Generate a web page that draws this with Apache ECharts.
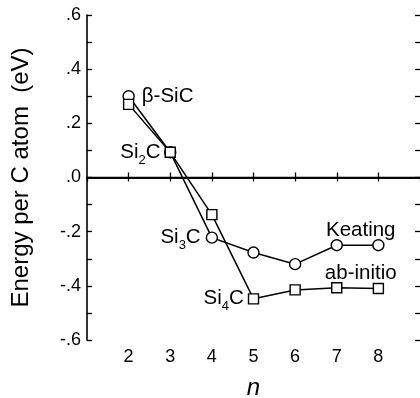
<!DOCTYPE html>
<html><head><meta charset="utf-8">
<script src="https://cdn.jsdelivr.net/npm/echarts@6/dist/echarts.min.js"></script>
<style>html,body{margin:0;padding:0;background:#fff}#c{width:420px;height:398px}</style>
</head><body><div id="c"></div>
<script>
var nValues = [2, 3, 4, 5, 6, 7, 8];
var keating = [0.30, 0.093, -0.222, -0.277, -0.32, -0.25, -0.25];
var abInitio = [0.27, 0.093, -0.137, -0.448, -0.415, -0.407, -0.41];
var yTickLabels = {'-0.6':'-.6','-0.4':'-.4','-0.2':'-.2','0':'.0','0.2':'.2','0.4':'.4','0.6':'.6'};

var FONT = '"Liberation Sans", Arial, Helvetica, sans-serif';
var rich = {s: {fontSize: 13, fontFamily: FONT, color: '#000', padding: [16, 0, 0, 0]}};
function lab(text, pos, extra) {
  var o = {show: true, formatter: text, position: pos, fontSize: 20.5, fontFamily: FONT, color: '#000', rich: rich};
  for (var k in extra) o[k] = extra[k];
  return o;
}
var keatLabels = {0: lab('β-SiC', 'right', {distance: 7}), 2: lab('Si{s|3}C', 'left', {distance: 5}),
  5: lab('Keating', 'inside', {offset: [24, -15]})};
var abLabels = {1: lab('Si{s|2}C', 'left', {distance: 4}), 3: lab('Si{s|4}C', 'left', {distance: 4}),
  5: lab('ab-initio', 'inside', {offset: [24, -14]})};
function build(vals, labels) {
  return vals.map(function (v, i) {
    var d = {value: [nValues[i], v]};
    if (labels[i]) d.label = labels[i];
    return d;
  });
}
var blk = {color: '#000', width: 1.6};
var tick = {color: '#000', width: 1.3};
var chart = echarts.init(document.getElementById('c'), null, {renderer: 'canvas'});
chart.setOption({
  animation: false,
  grid: {left: 87, right: 0, top: 15, bottom: 58, containLabel: false, outerBoundsMode: 'none'},
  xAxis: [{
    type: 'value', min: 1, max: 9, interval: 1, position: 'bottom',
    name: 'n', nameLocation: 'middle', nameGap: 36,
    nameTextStyle: {fontSize: 24, fontStyle: 'italic', fontFamily: FONT, color: '#000'},
    axisLine: {show: true, lineStyle: blk},
    axisTick: {show: true, inside: true, length: 5, lineStyle: tick},
    axisLabel: {show: true, fontSize: 18, fontFamily: FONT, color: '#000', margin: 8,
      showMinLabel: false, showMaxLabel: false},
    splitLine: {show: false}
  }, {
    type: 'value', min: 1, max: 9, interval: 1, position: 'top',
    axisLine: {show: true, lineStyle: blk},
    axisTick: {show: true, inside: true, length: 4, lineStyle: tick},
    axisLabel: {show: false}, splitLine: {show: false}
  }],
  yAxis: [{
    type: 'value', min: -0.6, max: 0.6, interval: 0.2, position: 'left',
    name: 'Energy per C atom  (eV)', nameLocation: 'middle', nameGap: 54,
    nameTextStyle: {fontSize: 24, fontFamily: FONT, color: '#000'},
    axisLine: {show: true, lineStyle: blk},
    axisTick: {show: true, inside: true, length: 5, lineStyle: tick},
    minorTick: {show: true, splitNumber: 2, length: 5, lineStyle: tick},
    axisLabel: {fontSize: 18, fontFamily: FONT, color: '#000', margin: 6,
      formatter: function (v) { var k = String(Math.round(v * 10) / 10); return yTickLabels[k] || ''; }},
    splitLine: {show: false}, minorSplitLine: {show: false}
  }, {
    type: 'value', min: -0.6, max: 0.6, interval: 0.2, position: 'right',
    axisLine: {show: false},
    axisTick: {show: true, inside: true, length: 5, lineStyle: tick},
    minorTick: {show: true, splitNumber: 2, length: 5, lineStyle: tick},
    axisLabel: {show: false}, splitLine: {show: false}
  }],
  series: [{
    name: 'Keating', type: 'line', data: build(keating, keatLabels),
    symbol: 'circle', symbolSize: 11, showAllSymbol: true,
    lineStyle: {color: '#000', width: 1.5},
    itemStyle: {color: '#fff', borderColor: '#000', borderWidth: 1.4},
    markLine: {silent: true, symbol: 'none', label: {show: false},
      lineStyle: {color: '#000', width: 1.3, type: 'solid'}, data: [{yAxis: 0}]},
    z: 2
  }, {
    name: 'ab-initio', type: 'line', data: build(abInitio, abLabels),
    symbol: 'rect', symbolSize: 10, showAllSymbol: true,
    lineStyle: {color: '#000', width: 1.5},
    itemStyle: {color: '#fff', borderColor: '#000', borderWidth: 1.4},
    z: 3
  }]
});
</script></body></html>
